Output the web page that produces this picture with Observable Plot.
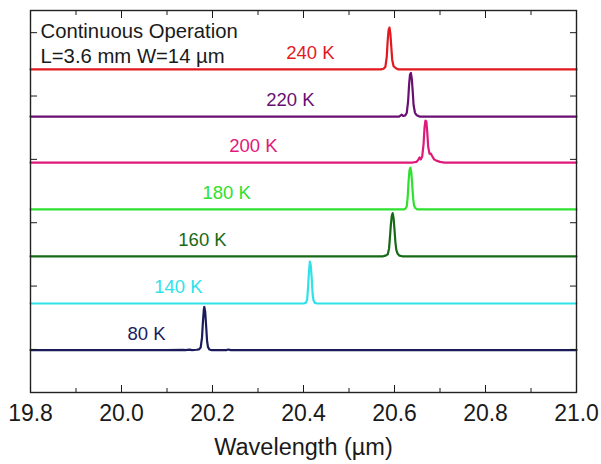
<!DOCTYPE html>
<html>
<head>
<meta charset="utf-8">
<script src="https://cdn.jsdelivr.net/npm/d3@7"></script>
<script src="https://cdn.jsdelivr.net/npm/@observablehq/plot@0.6"></script>
<style>
  html, body { margin: 0; padding: 0; background: #fff; }
  #chart svg { display: block; }
</style>
</head>
<body>
<div id="chart"></div>
<script>
// ---- data ----
const temps = ["240 K", "220 K", "200 K", "180 K", "160 K", "140 K", "80 K"];
const colors = ["#e2191f", "#690f72", "#e0187a", "#2ee12e", "#166a16", "#2fe2ea", "#1b1b5c"];
const offsets = [4.42, 3.675, 2.95, 2.21, 1.47, 0.725, -0.01];

// spectra: [wavelength (µm), intensity (a.u.)]
const s240 = [[19.8,0],[20.57,0],[20.576,0.01],[20.580,0.04],[20.583,0.2],[20.585,0.45],[20.587,0.62],[20.589,0.66],[20.591,0.56],[20.593,0.35],[20.595,0.15],[20.598,0.05],[20.603,0.02],[20.609,0],[21.0,0]];
const s220 = [[19.8,0],[20.61,0],[20.616,0.03],[20.619,0.01],[20.624,0.02],[20.627,0.06],[20.630,0.25],[20.632,0.5],[20.634,0.66],[20.636,0.69],[20.638,0.6],[20.640,0.4],[20.642,0.18],[20.645,0.06],[20.649,0.02],[20.655,0],[21.0,0]];
const s200 = [[19.8,0],[20.64,0],[20.648,0.01],[20.652,0.04],[20.655,0.08],[20.658,0.05],[20.661,0.1],[20.664,0.3],[20.666,0.55],[20.668,0.66],[20.670,0.65],[20.672,0.48],[20.674,0.25],[20.677,0.14],[20.680,0.14],[20.683,0.1],[20.687,0.05],[20.692,0.03],[20.70,0.01],[20.71,0],[21.0,0]];
const s180 = [[19.8,0],[20.62,0],[20.624,0.01],[20.627,0.05],[20.629,0.2],[20.631,0.45],[20.633,0.62],[20.635,0.66],[20.637,0.58],[20.639,0.38],[20.641,0.17],[20.643,0.06],[20.646,0.02],[20.650,0],[21.0,0]];
const s160 = [[19.8,0],[20.575,0],[20.580,0.01],[20.585,0.03],[20.588,0.12],[20.590,0.3],[20.592,0.5],[20.594,0.64],[20.596,0.68],[20.598,0.6],[20.600,0.42],[20.602,0.22],[20.604,0.1],[20.607,0.04],[20.611,0.01],[20.617,0],[21.0,0]];
const s140 = [[19.8,0],[20.40,0],[20.405,0.01],[20.408,0.06],[20.410,0.25],[20.412,0.5],[20.414,0.66],[20.416,0.6],[20.418,0.4],[20.420,0.15],[20.422,0.05],[20.425,0.01],[20.43,0],[21.0,0]];
const s80 = [[19.8,0],[20.10,0],[20.135,0.004],[20.14,0],[20.15,0.006],[20.155,0],[20.165,0.005],[20.170,0.01],[20.174,0.04],[20.177,0.2],[20.179,0.45],[20.181,0.64],[20.182,0.68],[20.184,0.6],[20.186,0.38],[20.188,0.15],[20.190,0.05],[20.193,0.01],[20.197,0],[20.23,0],[20.235,0.008],[20.24,0],[21.0,0]];
const spectra = [s240, s220, s200, s180, s160, s140, s80];

// tick values
const xMajor = [19.8, 20.0, 20.2, 20.4, 20.6, 20.8, 21.0];
const xMinor = [19.9, 20.1, 20.3, 20.5, 20.7, 20.9];
const yTicks = [0, 1, 2, 3, 4, 5];

// label anchor positions (layout)
const labelX = [20.415, 20.371, 20.290, 20.231, 20.178, 20.125, 20.055];
const labelLift = 0.26;

// ---- build tables ----
const rows = [];
spectra.forEach((s, i) => s.forEach(([w, v]) => rows.push({T: temps[i], w, y: v + offsets[i]})));
const labels = temps.map((t, i) => ({T: t, x: labelX[i], y: offsets[i] + labelLift}));

const font = "'Liberation Sans', Arial, sans-serif";
const plot = Plot.plot({
  width: 601,
  height: 464,
  marginLeft: 30,
  marginRight: 25,
  marginTop: 10,
  marginBottom: 72,
  style: {fontFamily: font, color: "#1a1a1a", background: "#fff"},
  x: {domain: [19.8, 21.0]},
  y: {domain: [-0.68, 5.35]},
  color: {domain: temps, range: colors},
  marks: [
    Plot.line(rows, {x: "w", y: "y", z: "T", stroke: "T", strokeWidth: 2.2}),
    Plot.text(labels, {x: "x", y: "y", text: "T", fill: "T", fontSize: 18.5}),
    Plot.frame({stroke: "#222", strokeWidth: 1.4}),
    Plot.axisX(xMajor, {anchor: "bottom", tickSize: -7, tickPadding: 19, fontSize: 23, tickFormat: d => d.toFixed(1), label: null}),
    Plot.axisX(xMinor, {anchor: "bottom", tickSize: -4, tickFormat: () => "", label: null}),
    Plot.axisX(xMajor, {anchor: "top", tickSize: -7, tickFormat: () => "", label: null}),
    Plot.axisX(xMinor, {anchor: "top", tickSize: -4, tickFormat: () => "", label: null}),
    Plot.axisY(yTicks, {anchor: "left", tickSize: -7, tickFormat: () => "", label: null}),
    Plot.axisY(yTicks, {anchor: "right", tickSize: -7, tickFormat: () => "", label: null}),
    Plot.text(["Wavelength (µm)"], {frameAnchor: "bottom", dy: 62, fontSize: 23.5, fill: "#1a1a1a"}),
    Plot.text(["Continuous Operation"], {frameAnchor: "top-left", dx: 10, dy: 13, textAnchor: "start", fontSize: 20.3, fill: "#1a1a1a"}),
    Plot.text(["L=3.6 mm W=14 µm"], {frameAnchor: "top-left", dx: 10, dy: 38, textAnchor: "start", fontSize: 20.3, fill: "#1a1a1a"})
  ]
});
document.getElementById("chart").appendChild(plot);
</script>
</body>
</html>
